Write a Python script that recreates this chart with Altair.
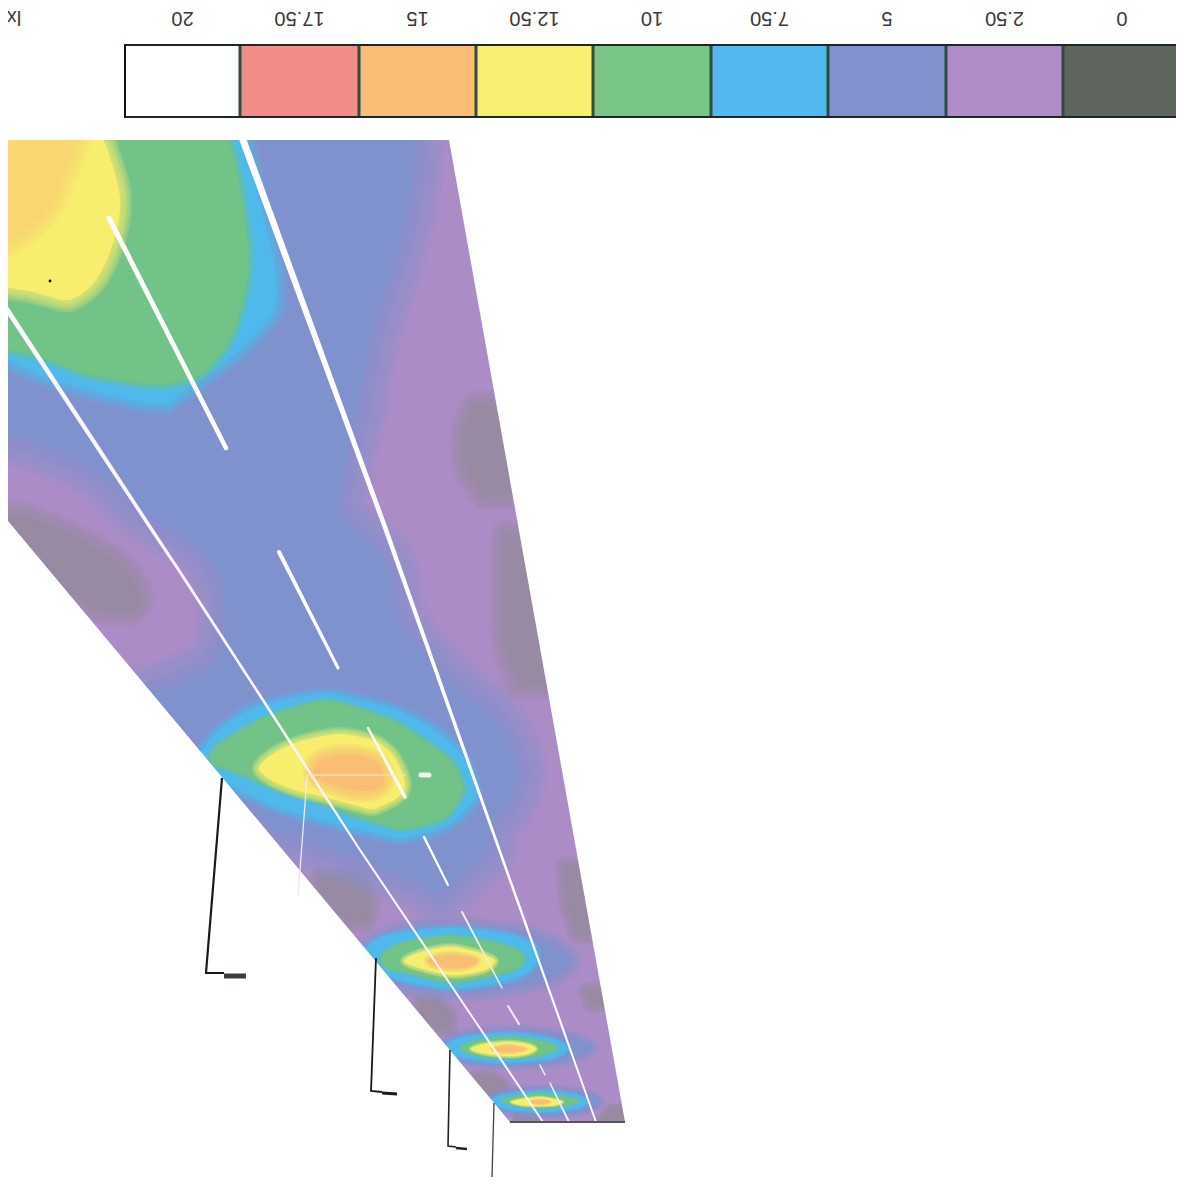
import altair as alt
import pandas as pd

W, H = 1168, 1169
OX, OY = 8, 8

# legend
LEGEND_LABELS = ["20", "17.50", "15", "12.50", "10", "7.50", "5", "2.50", "0"]
LEGEND_EDGES = [125, 240, 359, 476, 593, 711, 828, 946, 1063, 1181]
LEGEND_COLORS = ["#FFFFFF", "#F08D86", "#FBBC76", "#F8EF72", "#78C586", "#52B8EE", "#8091CE", "#AF8CC8", "#5E665E"]

PURPLE = "#AC8CC6"
GREY = "#978AA0"
BLUE = "#8092CE"
CYAN = "#4FB9EC"
GREEN = "#71C388"
YELLOW = "#F7EE6E"
ORANGE = "#F9BE74"
AMBER = "#FAD671"

# illuminance regions: (colour, edge softness, [(y, left x, right x), ...]), lowest level first
REGIONS = [
    (GREY, 30, [(515, -10, 20), (540, -10, 80), (570, 30, 125), (600, 80, 140), (612, 110, 130)]),
    (GREY, 30, [(405, 475, 490), (430, 465, 510), (470, 468, 510), (495, 485, 510)]),
    (GREY, 30, [(535, 505, 530), (580, 505, 560), (640, 505, 560), (685, 520, 560)]),
    (GREY, 22, [(878, 320, 350), (890, 320, 365), (910, 335, 370), (922, 350, 365)]),
    (GREY, 16, [(1000, 420, 435), (1015, 420, 450), (1030, 440, 450)]),
    (GREY, 12, [(1075, 475, 490), (1085, 475, 505), (1100, 490, 510)]),
    (GREY, 20, [(865, 565, 585), (905, 568, 600), (935, 578, 600)]),
    (GREY, 16, [(990, 585, 615), (1005, 590, 620)]),
    (GREY, 10, [(1108, 610, 640), (1125, 595, 640)]),
    (GREY, 6, [(1117, 515, 540), (1125, 515, 540)]),
    # blue band and halos
    (BLUE, 60, [(130, -10, 415), (200, -10, 410), (260, -10, 395), (340, -10, 370), (400, -10, 360),
                (425, -10, 355), (445, 40, 350), (470, 95, 345), (510, 140, 340), (560, 210, 385),
                (620, 225, 400), (660, 215, 430), (690, 160, 460), (720, -10, 495), (770, -10, 518),
                (800, 240, 510), (830, 275, 490), (850, 335, 487), (870, 385, 465), (885, 425, 450),
                (893, 438, 442)]),
    (BLUE, 24, [(928, 435, 465), (935, 390, 525), (950, 365, 560), (962, 355, 570), (975, 375, 555),
                (985, 405, 515), (990, 440, 480)]),
    (BLUE, 14, [(1031, 505, 525), (1037, 455, 570), (1048, 445, 592), (1058, 455, 570), (1064, 505, 530)]),
    (BLUE, 10, [(1089, 540, 550), (1094, 495, 588), (1102, 490, 600), (1110, 500, 586), (1115, 540, 555)]),
    # cyan
    (CYAN, 20, [(130, -10, 243), (200, -10, 259), (270, -10, 275), (310, -10, 274), (345, -10, 245),
                (372, 33, 212), (393, 100, 182), (404, 150, 168)]),
    (CYAN, 14, [(694, 315, 330), (711, 247, 398), (738, 212, 445), (757, 201, 463), (780, 223, 473),
                (798, 256, 475), (807, 276, 468), (824, 336, 449), (838, 395, 405)]),
    (CYAN, 8, [(928, 445, 455), (936, 385, 515), (950, 365, 537), (965, 370, 535), (978, 395, 515), (988, 445, 460)]),
    (CYAN, 6, [(1033, 505, 515), (1040, 455, 555), (1048, 445, 567), (1056, 458, 558), (1062, 505, 515)]),
    (CYAN, 4, [(1090, 540, 545), (1096, 500, 580), (1102, 490, 588), (1108, 505, 578), (1112, 540, 545)]),
    # green
    (GREEN, 12, [(130, -10, 225), (163, -10, 235), (263, -10, 248), (297, -10, 243), (340, -10, 229),
                 (357, 43, 217), (373, 85, 202), (380, 120, 185), (384, 155, 165)]),
    (GREEN, 8, [(701, 320, 330), (720, 260, 390), (750, 214, 437), (760, 210, 450), (772, 238, 458),
                (790, 280, 463), (802, 320, 457), (817, 360, 445), (828, 397, 407)]),
    (GREEN, 5, [(936, 445, 455), (944, 399, 501), (955, 382, 523), (965, 383, 521), (973, 409, 501), (982, 445, 460)]),
    (GREEN, 3, [(1037, 505, 515), (1042, 469, 546), (1048, 460, 558), (1054, 472, 546), (1058, 505, 515)]),
    (GREEN, 2, [(1093, 540, 545), (1097, 509, 571), (1101, 502, 579), (1105, 514, 569), (1108, 540, 545)]),
    # yellow
    (YELLOW, 24, [(130, -10, 100), (197, -10, 120), (243, -10, 113), (280, -10, 96), (292, 33, 84), (300, 62, 70)]),
    (YELLOW, 14, [(734, 335, 345), (742, 298, 377), (754, 273, 392), (768, 259, 400), (778, 268, 404),
                  (790, 295, 404), (798, 328, 397), (809, 368, 375)]),
    (YELLOW, 8, [(947, 445, 455), (953, 418, 480), (961, 404, 495), (969, 423, 487), (975, 450, 460)]),
    (YELLOW, 5, [(1042, 505, 512), (1045, 480, 530), (1049, 471, 536), (1053, 482, 530), (1056, 505, 515)]),
    (YELLOW, 3, [(1097, 538, 542), (1100, 517, 558), (1102, 511, 563), (1105, 520, 556), (1106, 538, 542)]),
    # orange
    (AMBER, 30, [(130, -10, 80), (170, -10, 65), (205, -10, 50), (235, -10, 20), (245, -10, 0)]),
    (ORANGE, 22, [(755, 340, 355), (762, 318, 377), (775, 314, 384), (785, 333, 382), (791, 355, 370)]),
    (ORANGE, 8, [(955, 445, 455), (960, 428, 477), (965, 433, 472), (968, 450, 460)]),
    (ORANGE, 5, [(1046, 505, 510), (1049, 492, 526), (1052, 505, 512)]),
    (ORANGE, 3, [(1100, 538, 542), (1102, 530, 550), (1104, 538, 542)]),
]

# trapezoid outline
LEFT_EDGE_X = [3, 510, 630]
LEFT_EDGE_Y = [515, 1122, 1122]
RIGHT_EDGE_X = [449, 625, 630]
RIGHT_EDGE_Y = [140, 1122, 1122]

# white lines: (colour, [(x, y, width), ...])
WHITE_LINES = [
    ("#FFFFFF", [(243, 140, 7), (386, 530, 4.5), (510, 880, 2.5), (596, 1122, 1.8)]),
    ("#FBF4F8", [(2, 302, 5), (150, 527, 3.5), (180, 572, 3), (360, 850, 2.2), (543, 1122, 1.8)]),
    ("#FFFFFF", [(109, 218, 5), (226, 448, 4.5)]),
    ("#FFFFFF", [(279, 552, 4), (338, 668, 3)]),
    ("#FCFAF0", [(368, 728, 2.5), (405, 797, 3.5)]),
    ("#FFFFFF", [(424, 837, 2.5), (448, 885, 2)]),
    ("#EEF0E0", [(462, 912, 2), (502, 988, 1.5)]),
    ("#F3EDF6", [(508, 1006, 2), (519, 1024, 2)]),
    ("#F3EDF6", [(540, 1065, 1.5), (545, 1075, 1.5)]),
    ("#F3EDF6", [(550, 1083, 1.5), (569, 1122, 2)]),
    ("#F5E6D0", [(308, 775, 1.2), (405, 775, 1.2)]),
    ("#F0E8F0", [(307, 777, 1.3), (300, 870, 1.3)]),
    ("#E4E4E4", [(300, 870, 1.2), (298, 895, 1)]),
    ("#EEF6E4", [(421, 775, 5), (429, 775, 5)]),
]

# black leaders: (width, colour, [(x, y), ...])
LEADERS = [
    (2.2, "#1A1A1A", [(222, 778), (206, 973), (224, 973)]),
    (5, "#3A3F3A", [(224, 976), (246, 976)]),
    (1.8, "#1A1A1A", [(376, 958), (371, 1091), (382, 1092)]),
    (3, "#1A1A1A", [(382, 1093), (397, 1094)]),
    (1.6, "#222222", [(450, 1050), (448, 1146), (456, 1147)]),
    (2.5, "#222222", [(456, 1148), (467, 1149)]),
    (1.3, "#444444", [(494, 1103), (492, 1178), (498, 1179)]),
    (3.5, "#222222", [(499, 1180), (507, 1181)]),
    (2, "#555555", [(510, 1122), (625, 1122)]),
]
DOT_X, DOT_Y = [50], [281]
SOFT_STEPS = [1.0, 0.8, 0.6, 0.4, 0.2]

xs = alt.Scale(domain=[OX, OX + W], range=[0, W], nice=False, zero=False)
ys = alt.Scale(domain=[OY, OY + H], range=[0, H], nice=False, zero=False)
X = lambda f: alt.X(f, type="quantitative", scale=xs, axis=None)
Y = lambda f: alt.Y(f, type="quantitative", scale=ys, axis=None)

layers = []

# base
base = pd.DataFrame({"x": [3], "x2": [640], "y": [130], "y2": [1130]})
layers.append(alt.Chart(base).mark_rect(color=PURPLE, clip=True).encode(X("x"), Y("y"), x2="x2", y2="y2"))

# regions
for i, (col, soft, pts) in enumerate(REGIONS):
    df = pd.DataFrame(pts, columns=["y", "xl", "xr"])
    enc = dict(y=Y("y"), x=X("xl"), x2="xr")
    for f in SOFT_STEPS:
        layers.append(alt.Chart(df).mark_area(orient="horizontal", interpolate="catmull-rom", clip=True,
                                              color=col, stroke=col, strokeWidth=soft * f, opacity=0.22,
                                              strokeJoin="round").encode(**enc))
    layers.append(alt.Chart(df).mark_area(orient="horizontal", interpolate="catmull-rom", clip=True,
                                          color=col, opacity=0.75 if col == GREY else 1).encode(**enc))

# white masks outside the trapezoid
mask_left = pd.DataFrame({"x": LEFT_EDGE_X, "y": LEFT_EDGE_Y, "y2": [1185] * 3})
layers.append(alt.Chart(mask_left).mark_area(color="white", clip=True).encode(X("x"), Y("y"), y2="y2"))
mask_right = pd.DataFrame({"x": RIGHT_EDGE_X, "y": [130, 130, 130], "y2": RIGHT_EDGE_Y})
layers.append(alt.Chart(mask_right).mark_area(color="white", clip=True).encode(X("x"), Y("y"), y2="y2"))
mask_rects = pd.DataFrame({"x": [0, 628], "x2": [1184, 1184], "y": [0, 0], "y2": [140, 1185]})
layers.append(alt.Chart(mask_rects).mark_rect(color="white", clip=True).encode(X("x"), Y("y"), x2="x2", y2="y2"))

# white lines
for col, pts in WHITE_LINES:
    df = pd.DataFrame(pts, columns=["x", "y", "w"])
    df["o"] = range(len(df))
    layers.append(alt.Chart(df).mark_trail(color=col, clip=True).encode(
        X("x"), Y("y"), order="o:Q", size=alt.Size("w:Q", scale=None, legend=None)))

# leaders
for w, col, pts in LEADERS:
    df = pd.DataFrame(pts, columns=["x", "y"])
    df["o"] = range(len(df))
    layers.append(alt.Chart(df).mark_line(color=col, strokeWidth=w, clip=True).encode(X("x"), Y("y"), order="o:Q"))

layers.append(alt.Chart(pd.DataFrame({"x": DOT_X, "y": DOT_Y})).mark_circle(color="#111111", size=8, opacity=1)
              .encode(X("x"), Y("y")))

# legend
leg = pd.DataFrame({"label": LEGEND_LABELS, "x": LEGEND_EDGES[:-1], "x2": LEGEND_EDGES[1:], "c": LEGEND_COLORS})
leg["y"] = 45
leg["y2"] = 117
leg["xm"] = (leg["x"] + leg["x2"]) / 2
leg["yt"] = 18
layers.append(alt.Chart(leg).mark_rect(clip=True).encode(X("x"), Y("y"), x2="x2", y2="y2",
                                                color=alt.Color("c:N", scale=None, legend=None)))
div = pd.DataFrame({"x": LEGEND_EDGES[1:-1], "y": [45] * 8, "y2": [117] * 8})
layers.append(alt.Chart(div).mark_rule(color="#2F4A40", strokeWidth=3).encode(X("x"), Y("y"), y2="y2"))
for yy in (45, 117):
    layers.append(alt.Chart(pd.DataFrame({"x": [124], "x2": [1176], "y": [yy]})).mark_rule(color="#1C2A24", strokeWidth=2)
                  .encode(X("x"), Y("y"), x2="x2"))
layers.append(alt.Chart(pd.DataFrame({"x": [125], "y": [45], "y2": [117]})).mark_rule(color="#111111", strokeWidth=2)
              .encode(X("x"), Y("y"), y2="y2"))
layers.append(alt.Chart(leg).mark_text(font="Liberation Sans", fontSize=20, angle=180, align="center",
                                       baseline="middle", color="#3A3A3A").encode(X("xm"), Y("yt"), text="label:N"))
layers.append(alt.Chart(pd.DataFrame({"x": [14], "y": [17], "t": ["lx"]})).mark_text(
    font="Liberation Sans", fontSize=20, angle=180, align="center", baseline="middle", color="#3A3A3A")
    .encode(X("x"), Y("y"), text="t:N"))

chart = alt.layer(*layers).properties(
    width=W, height=H, padding=0, autosize=alt.AutoSizeParams(type="none")
).configure_view(stroke=None)

chart.save("out.html", embed_options={"renderer": "svg", "actions": False})
